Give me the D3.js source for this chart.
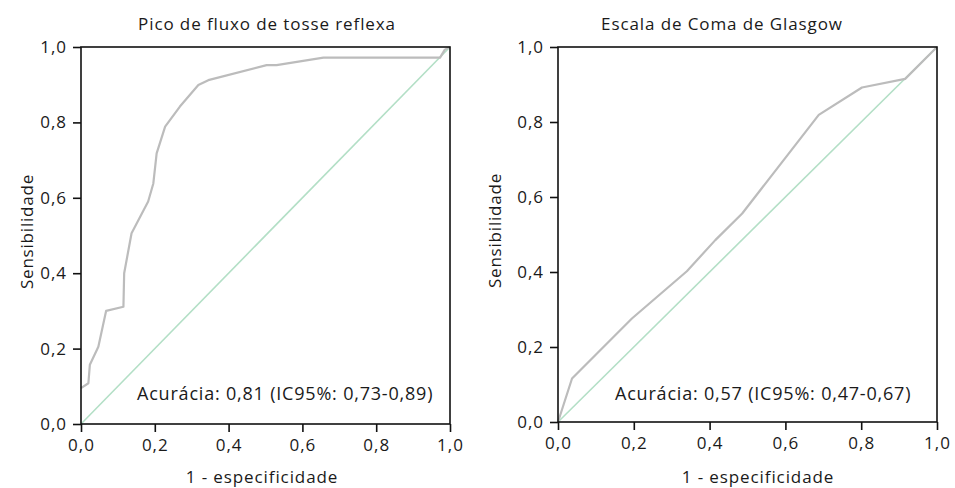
<!DOCTYPE html>
<html>
<head>
<meta charset="utf-8">
<script src="https://cdn.jsdelivr.net/npm/d3@7"></script>
<style>
  body { margin: 0; background: #fff; }
  svg text { font-family: "Open Sans", sans-serif; fill: #1a1a1a; }
</style>
</head>
<body>
<svg id="chart" width="955" height="488"></svg>
<script>
// ROC curves — two panels side by side

const ticks = [0, 0.2, 0.4, 0.6, 0.8, 1.0];

// Pico de fluxo de tosse reflexa
const pfFpr = [0, 0.02, 0.024, 0.047, 0.068, 0.115, 0.117, 0.137, 0.182, 0.196, 0.205, 0.228, 0.268, 0.318, 0.345, 0.503, 0.53, 0.657, 0.973, 0.986, 1];
const pfTpr = [0.095, 0.108, 0.157, 0.205, 0.30, 0.311, 0.40, 0.506, 0.59, 0.638, 0.718, 0.789, 0.842, 0.899, 0.912, 0.952, 0.952, 0.972, 0.972, 0.993, 1];

// Escala de Coma de Glasgow
const gcsFpr = [0, 0.037, 0.195, 0.34, 0.415, 0.486, 0.688, 0.802, 0.916, 1];
const gcsTpr = [0, 0.116, 0.276, 0.402, 0.485, 0.556, 0.819, 0.892, 0.915, 1];

const titles = ['Pico de fluxo de tosse reflexa', 'Escala de Coma de Glasgow'];
const notes  = ['Acurácia: 0,81 (IC95%: 0,73-0,89)', 'Acurácia: 0,57 (IC95%: 0,47-0,67)'];

const panels = [
  { x0: 81,  x1: 450, y0: 47, y1: 424, fpr: pfFpr,  tpr: pfTpr,  title: titles[0], note: notes[0], titleX: 267, noteX: 137, noteY: 400, ylabX: 33,  xlabX: 262 },
  { x0: 558, x1: 937, y0: 47, y1: 422, fpr: gcsFpr, tpr: gcsTpr, title: titles[1], note: notes[1], titleX: 722, noteX: 615, noteY: 400, ylabX: 501, xlabX: 758 },
];

const svg = d3.select('#chart');
const fmt = v => d3.format('.1f')(v).replace('.', ',');

panels.forEach(p => {
  const x = d3.scaleLinear().domain([0, 1]).range([p.x0, p.x1]);
  const y = d3.scaleLinear().domain([0, 1]).range([p.y1, p.y0]);
  const g = svg.append('g');

  // reference diagonal
  g.append('line')
    .attr('x1', x(0)).attr('y1', y(0))
    .attr('x2', x(1)).attr('y2', y(1))
    .attr('stroke', '#b3dfc6')
    .attr('stroke-width', 1.6);

  // ROC curve
  const pts = p.fpr.map((f, i) => [f, p.tpr[i]]);
  g.append('path')
    .datum(pts)
    .attr('fill', 'none')
    .attr('stroke', '#bcbcbc')
    .attr('stroke-width', 2.2)
    .attr('stroke-linejoin', 'round')
    .attr('d', d3.line().x(d => x(d[0])).y(d => y(d[1])));

  // frame
  g.append('rect')
    .attr('x', p.x0).attr('y', p.y0)
    .attr('width', p.x1 - p.x0).attr('height', p.y1 - p.y0)
    .attr('fill', 'none')
    .attr('stroke', '#111')
    .attr('stroke-width', 1.6);

  // axes
  const ax = g.append('g')
    .attr('transform', `translate(0,${p.y1})`)
    .call(d3.axisBottom(x).tickValues(ticks).tickFormat(fmt).tickSize(8).tickPadding(7));
  const ay = g.append('g')
    .attr('transform', `translate(${p.x0},0)`)
    .call(d3.axisLeft(y).tickValues(ticks).tickFormat(fmt).tickSize(8).tickPadding(6));

  [ax, ay].forEach(a => {
    a.select('.domain').remove();
    a.selectAll('line').attr('stroke', '#111').attr('stroke-width', 1.6);
    a.selectAll('text')
      .style('font-size', '17px')
      .style('letter-spacing', '1px')
      .attr('fill', '#1a1a1a');
  });

  // titles and labels
  g.append('text')
    .attr('x', p.titleX).attr('y', 30)
    .attr('text-anchor', 'middle')
    .style('font-size', '17px')
    .style('letter-spacing', '0.9px')
    .text(p.title);

  g.append('text')
    .attr('x', p.xlabX).attr('y', 483)
    .attr('text-anchor', 'middle')
    .style('font-size', '17px')
    .style('letter-spacing', '0.9px')
    .text('1 - especificidade');

  g.append('text')
    .attr('transform', `translate(${p.ylabX},${(p.y0 + p.y1) / 2 - 4}) rotate(-90)`)
    .attr('text-anchor', 'middle')
    .style('font-size', '17px')
    .style('letter-spacing', '0.8px')
    .text('Sensibilidade');

  g.append('text')
    .attr('x', p.noteX).attr('y', p.noteY)
    .style('font-size', '18px')
    .style('letter-spacing', '0.8px')
    .text(p.note);
});
</script>
</body>
</html>
